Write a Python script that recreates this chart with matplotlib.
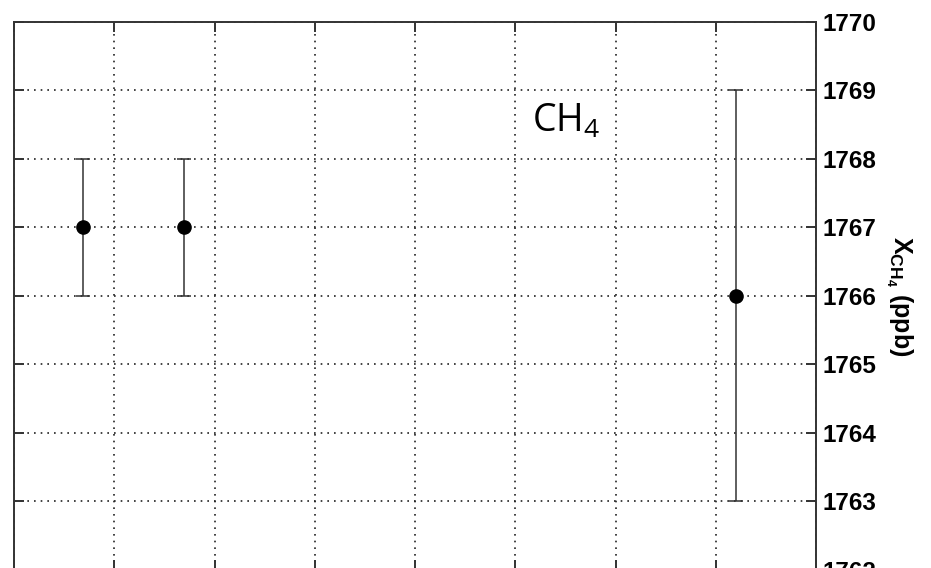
import matplotlib
matplotlib.use('Agg')
import matplotlib.pyplot as plt

x_pos = [0.69, 1.70, 7.20]
ch4_ppb = [1767, 1767, 1766]
ch4_err = [1, 1, 3]

x_ticks = [0, 1, 2, 3, 4, 5, 6, 7, 8]
y_ticks = [1762, 1763, 1764, 1765, 1766, 1767, 1768, 1769, 1770]

plt.rcParams['mathtext.fontset'] = 'custom'
plt.rcParams['mathtext.rm'] = 'Open Sans'
plt.rcParams['mathtext.bf'] = 'Liberation Sans:bold'

fig = plt.figure(figsize=(9.31, 5.68), dpi=100)
ax = fig.add_axes([14 / 931, -2 / 568, 802 / 931, 548.3 / 568])

ax.errorbar(x_pos, ch4_ppb, yerr=ch4_err, fmt='o', color='black',
            ecolor='#333333', elinewidth=1.1, capsize=4.7, capthick=1.1,
            markersize=9.5, zorder=3)

ax.set_xlim(0, 8)
ax.set_ylim(1762, 1770)
ax.set_xticks(x_ticks)
ax.set_yticks(y_ticks)
ax.set_xticklabels([])

ax.grid(True, linestyle=(0, (1, 3)), color='#222222', linewidth=1.2)

for s in ax.spines.values():
    s.set_linewidth(1.4)
    s.set_color('#333333')

ax.tick_params(axis='both', direction='in', length=7, width=1.4, color='#333333',
               top=True, bottom=True, left=True, right=True)
ax.tick_params(axis='y', labelleft=False, labelright=True, pad=5)
for lab in ax.get_yticklabels():
    lab.set_fontfamily('Liberation Sans')
    lab.set_fontweight('bold')
    lab.set_fontsize(17.5)

ax.yaxis.set_label_position('right')
ax.set_ylabel(r'$\mathbf{X_{CH_4}}$ (ppb)', rotation=270, fontsize=18,
              fontfamily='Liberation Sans', fontweight='bold', labelpad=27)

ax.text(5.17, 1768.39, r'CH$_4$', fontsize=27, fontfamily='Open Sans',
        ha='left', va='baseline')

fig.savefig('out.png', dpi=100)
